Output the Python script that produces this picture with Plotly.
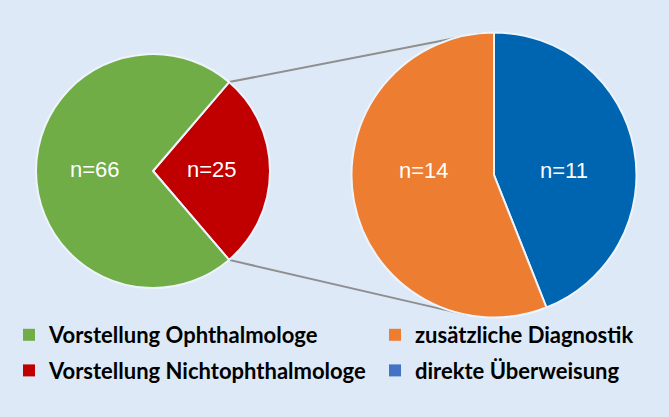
import math
import plotly.graph_objects as go

W, H = 669, 417
BG = "#dde9f7"

# left pie: all patients
main_labels = ["Vorstellung Ophthalmologe", "Vorstellung Nichtophthalmologe"]
main_values = [66, 25]
main_colors = ["#70ad47", "#c00000"]

# right pie: breakdown of the non-ophthalmologist group
sub_labels = ["zusätzliche Diagnostik", "direkte Überweisung"]
sub_values = [14, 11]
sub_colors = ["#ed7d31", "#0065b0"]
sub_legend_colors = ["#ed7d31", "#4472c4"]

# pie geometry in pixels (centre x, centre y, radius)
L_CX, L_CY, L_R = 153, 171, 117
R_CX, R_CY, R_R = 494, 175, 142.5


def dom(cx, cy, r):
    return dict(x=[(cx - r) / W, (cx + r) / W], y=[1 - (cy + r) / H, 1 - (cy - r) / H])


# red slice centred on 3 o'clock
half = 180 * main_values[1] / sum(main_values)
rot = 90 - half

fig = go.Figure()
# slices drawn clockwise, so the second entry of each list goes first
fig.add_trace(go.Pie(
    labels=main_labels[::-1], values=main_values[::-1], sort=False, direction="clockwise",
    rotation=rot, domain=dom(L_CX, L_CY, L_R),
    marker=dict(colors=main_colors[::-1], line=dict(color="#eef4fb", width=2)),
    textinfo="none", showlegend=False, hoverinfo="label+value",
))
fig.add_trace(go.Pie(
    labels=sub_labels[::-1], values=sub_values[::-1], sort=False, direction="clockwise",
    rotation=0, domain=dom(R_CX, R_CY, R_R),
    marker=dict(colors=sub_colors[::-1], line=dict(color="#eef4fb", width=2)),
    textinfo="none", showlegend=False, hoverinfo="label+value",
))


# "n=.." labels, placed halfway out along each slice's bisector (horizontally)
def slice_labels(vals, start, cx, cy, r):
    out = []
    acc = start
    tot = sum(vals)
    for v in vals:
        mid = math.radians(acc + 180 * v / tot)
        out.append(dict(x=cx + 0.5 * r * math.sin(mid), y=cy - 2, text="n=%d" % v))
        acc += 360 * v / tot
    return out


for lab in slice_labels(main_values[::-1], rot, L_CX, L_CY, L_R) + \
        slice_labels(sub_values[::-1], 0, R_CX, R_CY - 3, R_R):
    fig.add_annotation(x=lab["x"], y=lab["y"], text=lab["text"], xref="x", yref="y",
                       showarrow=False,
                       font=dict(family="Liberation Sans, Arial", size=22, color="white"))

# connector lines: edges of the red slice -> right pie
a = math.radians(half)
p_top = (L_CX + L_R * math.cos(a), L_CY - L_R * math.sin(a))
p_bot = (L_CX + L_R * math.cos(a), L_CY + L_R * math.sin(a))
t_top, t_bot = math.radians(355), math.radians(191)  # clockwise from 12 o'clock
q_top = (R_CX + R_R * math.sin(t_top), R_CY - R_R * math.cos(t_top))
q_bot = (R_CX + R_R * math.sin(t_bot), R_CY - R_R * math.cos(t_bot))
fig.add_trace(go.Scatter(
    x=[p_top[0], q_top[0], None, p_bot[0], q_bot[0]],
    y=[p_top[1], q_top[1], None, p_bot[1], q_bot[1]],
    mode="lines", line=dict(color="#8f8f8f", width=2),
    showlegend=False, hoverinfo="skip",
))

# legend entries, two columns
for i, (lab, col) in enumerate(zip([main_labels[0], sub_labels[0], main_labels[1], sub_labels[1]],
                                   [main_colors[0], sub_legend_colors[0], main_colors[1], sub_legend_colors[1]])):
    fig.add_trace(go.Scatter(
        x=[None], y=[None], mode="markers", name=lab,
        marker=dict(symbol="square", size=12, color=col),
        legend="legend" if i % 2 == 0 else "legend2", legendgroup=lab,
    ))

leg_font = dict(family="Lato, Calibri, sans-serif", size=22, color="black", weight="bold")
fig.update_layout(
    width=W, height=H, autosize=False,
    margin=dict(l=0, r=0, t=0, b=0),
    paper_bgcolor=BG, plot_bgcolor=BG,
    xaxis=dict(visible=False, range=[0, W], domain=[0, 1], fixedrange=True),
    yaxis=dict(visible=False, range=[H, 0], domain=[0, 1], fixedrange=True),
    legend=dict(x=9 / W, y=1 - 314 / H, xanchor="left", yanchor="top", bgcolor="rgba(0,0,0,0)",
                font=leg_font, tracegroupgap=4, itemclick=False, itemdoubleclick=False),
    legend2=dict(x=375 / W, y=1 - 314 / H, xanchor="left", yanchor="top", bgcolor="rgba(0,0,0,0)",
                 font=leg_font, tracegroupgap=4, itemclick=False, itemdoubleclick=False),
)

fig.write_html("out.html", config={"displayModeBar": False},
               post_script="document.body.style.margin='0';")
